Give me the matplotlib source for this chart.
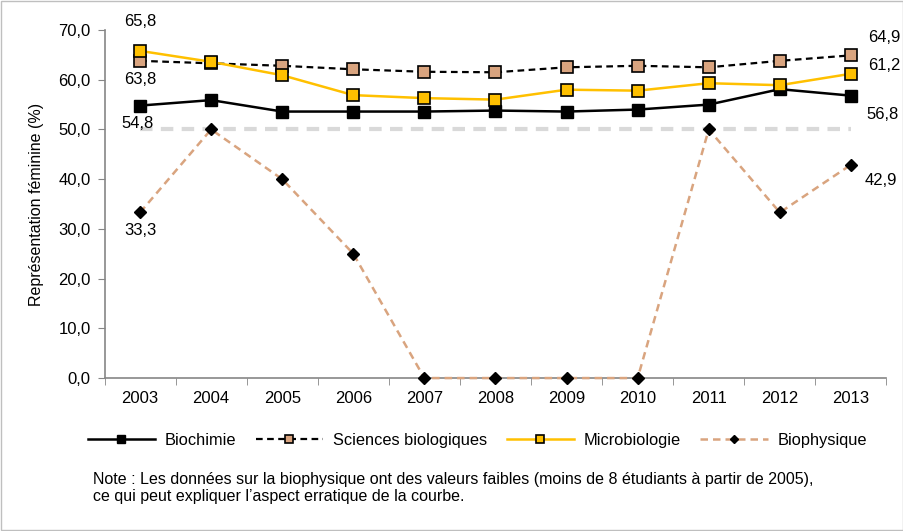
import matplotlib.pyplot as plt
from matplotlib.ticker import FuncFormatter
from matplotlib.patches import Rectangle

plt.rcParams['font.family'] = ['Liberation Sans', 'DejaVu Sans']

years = ["2003", "2004", "2005", "2006", "2007", "2008", "2009", "2010", "2011", "2012", "2013"]
biochimie = [54.8, 55.9, 53.6, 53.6, 53.6, 53.8, 53.6, 54.0, 55.0, 58.1, 56.8]
sciences_bio = [63.8, 63.3, 62.8, 62.1, 61.6, 61.5, 62.5, 62.8, 62.5, 63.8, 64.9]
microbiologie = [65.8, 63.6, 60.9, 56.9, 56.3, 56.0, 58.0, 57.8, 59.3, 58.9, 61.2]
biophysique = [33.3, 50.0, 40.0, 25.0, 0.0, 0.0, 0.0, 0.0, 50.0, 33.3, 42.9]
parity = [50.0] * len(years)

note = ("Note : Les données sur la biophysique ont des valeurs faibles (moins de 8 étudiants à partir de 2005),\n"
        "ce qui peut expliquer l\u2019aspect erratique de la courbe.")

fig = plt.figure(figsize=(9.04, 5.31), dpi=100)
ax = fig.add_axes([0.1156, 0.288, 0.865, 0.6555])
x = range(len(years))

ax.plot(x, parity, color='#d9d9d9', lw=3, ls=(0, (3, 2)), zorder=1)
l1, = ax.plot(x, biochimie, color='black', lw=1.8, marker='s', ms=8,
              mfc='black', mec='black', label='Biochimie', zorder=4)
l2, = ax.plot(x, sciences_bio, color='black', lw=1.6, ls=(0, (3, 2)), marker='s', ms=8,
              mfc='#d9a47f', mec='black', mew=1.2, label='Sciences biologiques', zorder=5)
l3, = ax.plot(x, microbiologie, color='#ffc000', lw=1.8, marker='s', ms=8,
              mfc='#ffc000', mec='black', mew=1.2, label='Microbiologie', zorder=6)
l4, = ax.plot(x, biophysique, color='#d9a47f', lw=1.8, ls=(0, (3, 2)), marker='D', ms=6,
              mfc='black', mec='black', label='Biophysique', zorder=7, clip_on=False)

fmt = lambda v: f"{v:.1f}".replace('.', ',')
last = len(years) - 1
# (series, index, dx, dy) offsets in points
labels = [
    (microbiologie, 0, 0, 21.5),
    (sciences_bio, 0, 0, -13.7),
    (biochimie, 0, -2, -13),
    (biophysique, 0, 0, -13),
    (sciences_bio, last, 23.7, 13),
    (microbiologie, last, 23.7, 5.8),
    (biochimie, last, 22.5, -13.7),
    (biophysique, last, 21.6, -11.5),
]
for series, i, dx, dy in labels:
    ax.annotate(fmt(series[i]), (i, series[i]), xytext=(dx, dy), textcoords='offset points',
                ha='center', va='center', fontsize=12, annotation_clip=False)

ax.set_xlim(-0.5, len(years) - 0.5)
ax.set_ylim(0, 70)
ax.set_yticks(range(0, 71, 10))
ax.yaxis.set_major_formatter(FuncFormatter(lambda v, p: fmt(v)))
ax.set_xticks(list(x))
ax.set_xticklabels(years)
ax.set_xticks([i - 0.5 for i in range(len(years) + 1)], minor=True)
ax.tick_params(axis='x', which='major', length=0, pad=9, labelsize=12)
ax.tick_params(axis='x', which='minor', length=5, color='#868686', direction='out')
ax.tick_params(axis='y', length=5, color='#868686', labelsize=12, pad=5)
for s in ['top', 'right']:
    ax.spines[s].set_visible(False)
for s in ['left', 'bottom']:
    ax.spines[s].set_color('#868686')
    ax.spines[s].set_linewidth(1.2)
    ax.spines[s].set_zorder(2)
ax.set_ylabel('Représentation féminine (%)', fontsize=11.5, labelpad=10)

fig.legend(handles=[l1, l2, l3, l4], loc='center', bbox_to_anchor=(0.528, 0.171), ncol=4,
           frameon=False, fontsize=11.8, handlelength=4.1, columnspacing=1.2, handletextpad=0.6,
           markerscale=0.75)
fig.text(0.103, 0.111, note, fontsize=11.5, va='top', ha='left', linespacing=1.15)

fig.add_artist(Rectangle((0.001, 0.001), 0.998, 0.998, transform=fig.transFigure,
                         fill=False, edgecolor='#bfbfbf', lw=1))

fig.savefig('out.png', dpi=100)
